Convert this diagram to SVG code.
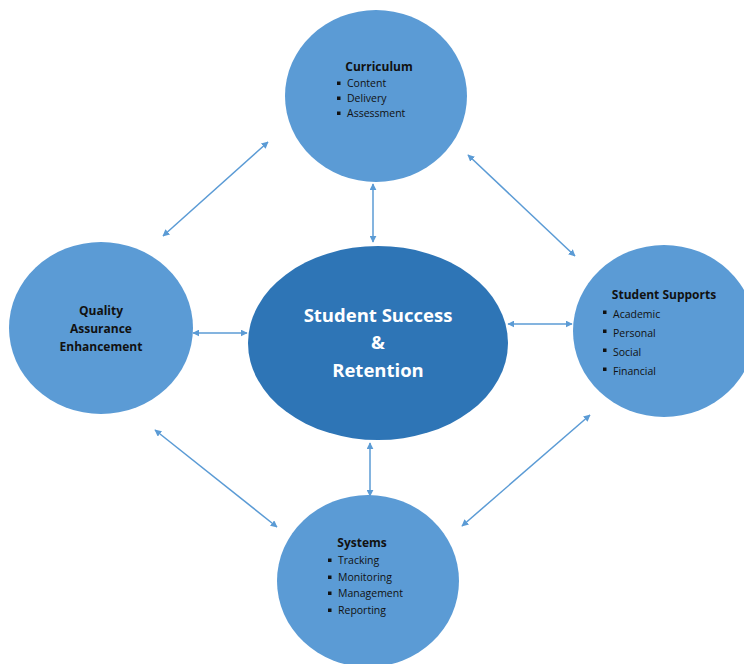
<svg xmlns="http://www.w3.org/2000/svg" width="744" height="664" viewBox="0 0 744 664">
  <style>
    .node { fill: #5B9BD5; }
    .hub { fill: #2E75B6; }
    .title { font-family: "Open Sans", "Liberation Sans", sans-serif; font-weight: bold; font-size: 12px; fill: #111; }
    .item { font-family: "Open Sans", "Liberation Sans", sans-serif; font-size: 10.5px; fill: #111; }
    .hubtext { font-family: "Open Sans", "Liberation Sans", sans-serif; font-weight: bold; font-size: 18.5px; fill: #fff; text-anchor: middle; }
    .conn { stroke: #5B9BD5; stroke-width: 1.5; fill: none; marker-start: url(#ah); marker-end: url(#ah); }
    .bullet { fill: #111; }
  </style>
  <defs>
    <marker id="ah" viewBox="0 0 10 10" refX="9" refY="5" markerWidth="7" markerHeight="7" markerUnits="userSpaceOnUse" orient="auto-start-reverse">
      <path d="M0,0 L10,5 L0,10 z" fill="#5B9BD5"/>
    </marker>
  </defs>
  <rect width="744" height="664" fill="#fff"/>

  <g id="connectors">
    <line class="conn" x1="163" y1="236" x2="268" y2="142"/>
    <line class="conn" x1="468" y1="155" x2="575" y2="256"/>
    <line class="conn" x1="373" y1="184" x2="373" y2="242"/>
    <line class="conn" x1="193" y1="333" x2="247" y2="333"/>
    <line class="conn" x1="508" y1="324" x2="572" y2="324"/>
    <line class="conn" x1="370" y1="443" x2="370" y2="496"/>
    <line class="conn" x1="155" y1="430" x2="277" y2="527"/>
    <line class="conn" x1="462" y1="526" x2="590" y2="415"/>
  </g>

  <g id="curriculum">
    <ellipse class="node" cx="376" cy="96" rx="91" ry="86"/>
    <text class="title" x="379" y="71" text-anchor="middle">Curriculum</text>
    <rect class="bullet" x="337" y="81.5" width="3.5" height="3.5"/>
    <text class="item" x="347" y="87">Content</text>
    <rect class="bullet" x="337" y="96.5" width="3.5" height="3.5"/>
    <text class="item" x="347" y="102">Delivery</text>
    <rect class="bullet" x="337" y="111.5" width="3.5" height="3.5"/>
    <text class="item" x="347" y="117">Assessment</text>
  </g>

  <g id="student-supports">
    <ellipse class="node" cx="664" cy="331" rx="91" ry="86"/>
    <text class="title" x="664" y="299" text-anchor="middle">Student Supports</text>
    <rect class="bullet" x="603" y="310.5" width="3.5" height="3.5"/>
    <text class="item" x="613" y="318">Academic</text>
    <rect class="bullet" x="603" y="329.5" width="3.5" height="3.5"/>
    <text class="item" x="613" y="337">Personal</text>
    <rect class="bullet" x="603" y="348.5" width="3.5" height="3.5"/>
    <text class="item" x="613" y="356">Social</text>
    <rect class="bullet" x="603" y="367.5" width="3.5" height="3.5"/>
    <text class="item" x="613" y="375">Financial</text>
  </g>

  <g id="systems">
    <ellipse class="node" cx="368" cy="581" rx="91" ry="86"/>
    <text class="title" x="362" y="547" text-anchor="middle">Systems</text>
    <rect class="bullet" x="328" y="558.5" width="3.5" height="3.5"/>
    <text class="item" x="338" y="564">Tracking</text>
    <rect class="bullet" x="328" y="575.5" width="3.5" height="3.5"/>
    <text class="item" x="338" y="581">Monitoring</text>
    <rect class="bullet" x="328" y="591.5" width="3.5" height="3.5"/>
    <text class="item" x="338" y="597">Management</text>
    <rect class="bullet" x="328" y="608.5" width="3.5" height="3.5"/>
    <text class="item" x="338" y="614">Reporting</text>
  </g>

  <g id="quality">
    <ellipse class="node" cx="101" cy="328" rx="92" ry="86"/>
    <text class="title" x="101" y="315" text-anchor="middle">Quality</text>
    <text class="title" x="101" y="333" text-anchor="middle">Assurance</text>
    <text class="title" x="101" y="351" text-anchor="middle">Enhancement</text>
  </g>

  <g id="student-success">
    <ellipse class="hub" cx="378" cy="343" rx="130" ry="97"/>
    <text class="hubtext" x="378" y="322">Student Success</text>
    <text class="hubtext" x="378" y="349">&amp;</text>
    <text class="hubtext" x="378" y="377">Retention</text>
  </g>
</svg>
